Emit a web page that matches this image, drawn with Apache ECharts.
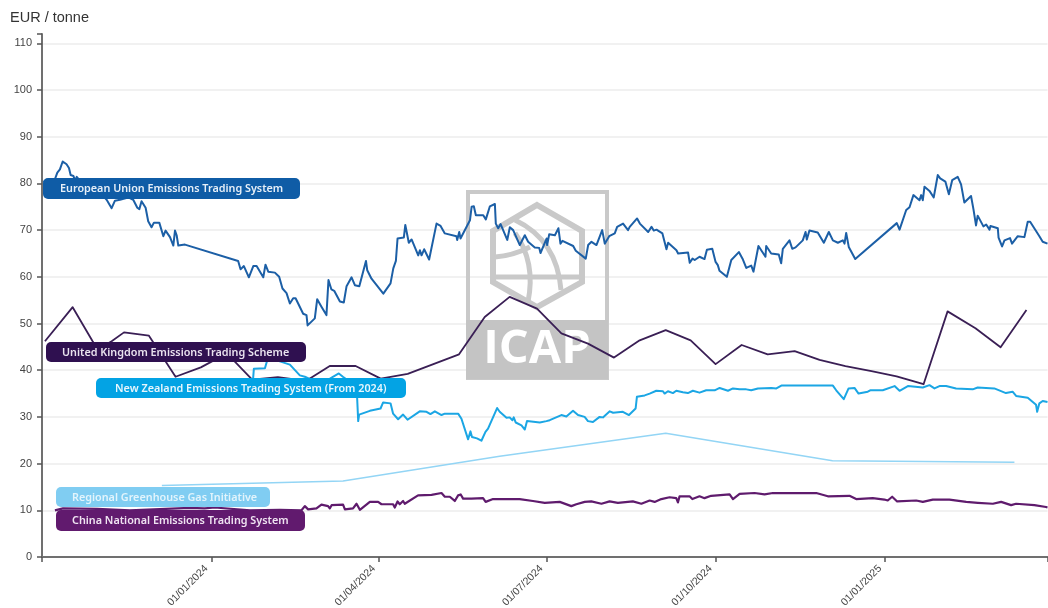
<!DOCTYPE html>
<html>
<head>
<meta charset="utf-8">
<style>html,body{margin:0;padding:0;background:#fff}#chart{width:1048px;height:608px;filter:blur(0.4px)}</style>
<script src="https://cdn.jsdelivr.net/npm/echarts@6/dist/echarts.min.js"></script>
</head>
<body>
<div id="chart"></div>
<script>
// Day numbers count from 1 October 2023 at a slightly coarser day width
const startDate = [2023, 9, 1];
const dayWidth = 1.0035;
const lastDay = 544.4;
const tickLabels = ['01/01/2024', '01/04/2024', '01/07/2024', '01/10/2024', '01/01/2025'];
const yLabels = [0, 10, 20, 30, 40, 50, 60, 70, 80, 90, 100, 110];
const unitLabel = 'EUR / tonne';

const euDays = [1,4.3,8.3,9.7,11.2,13.3,14.6,15.5,17,17.9,18.8,24,30,35,37.7,39.5,42.2,46.7,49.4,51.6,52.7,53.9,56.1,57.5,59.3,60.6,63.5,65.7,66.9,69.3,71.1,72,72.9,73.8,77.4,106.2,107.5,109.3,112,114.4,116.2,119.8,121,122.5,126.1,128.4,130.2,132.4,134.2,136,137.3,141.4,143.2,143.8,147.7,149,150,151.3,154,155.1,156.7,158.2,161.3,163.4,164.9,167.6,169.4,171.8,175.4,176.1,178.4,184.8,188.7,190.2,191.6,192.5,195.9,196.7,198.6,200.1,203.7,204.6,205.5,206.9,209.6,213.6,215.8,218.1,224.4,224.8,225.9,226.6,231.7,232.6,233.8,234.9,238.9,240.3,242.5,245.2,245.7,247,248.3,251.9,253.3,255.1,258.7,261.4,263.2,266.8,269.2,269.9,273.2,273.5,274.6,277.7,279.6,280.7,281.8,287.6,289,294.4,295.7,297.5,300.2,303.3,304.7,307.1,310.1,311.4,314.6,317.3,318.2,322.2,323.7,328.2,330,331.2,332.7,335.9,338.1,339,343.5,344.4,349.8,350.7,352.2,353.4,356,358.7,360,362.9,364.7,365.9,366.8,370.8,373.2,377.3,379.5,381.3,384,385.2,387.9,391.7,392.1,394.8,398.9,400.2,401.1,404.7,406.2,408,411.9,413.4,414.1,415.5,420,423.3,426,428.2,430.9,433.6,434.5,435.4,436.8,440.3,462.8,464.3,467.9,469.7,471.8,475.1,476,476.9,477.8,480.5,482.8,485,486.3,489.1,491,492.8,495.8,497.6,499.4,503,504.3,505.7,506.6,509.7,511.2,513,513.5,517.5,517.9,519.8,521.1,524.1,525.2,528.3,531.9,533.7,535,538.2,540,541.8,544.4];
const euValues = [80.6,78,82.3,83,84.7,84.1,83.3,81.8,81.6,80.6,81.4,79,78.8,76.5,74.7,76.3,76.5,77,76.5,74.8,74.5,76.2,74.8,71.9,70.6,71.6,71.6,68.7,69.9,68.5,66.7,69.9,68.9,66.7,66.9,63.4,61.6,62.3,59.9,62.3,62.3,59.9,62.6,61.1,60.9,60,57.5,56.5,54.3,55.4,55.4,52.1,51.8,49.6,51.1,55.2,55.2,53.6,51.8,59.3,57.3,57,54.7,54.5,58,59.9,58.2,58,63.4,61.4,59.6,56.4,58.6,61.8,63.4,68.2,68.4,71.1,67.3,68,64.6,65.7,64.6,65.9,63.7,71.4,70.9,69.3,68.7,67.9,69.6,68.2,72.1,75,75.1,73.2,73.2,72.3,75.1,75.6,71.4,70.4,71.3,67.9,70.6,70,66.8,68.9,67.5,66.3,66.2,65.1,68.2,66.8,69.1,68.9,70.4,67.1,67.7,66.6,65.6,63.9,66.8,67.5,66.8,70,67.1,68.7,69.3,70.7,71.4,70,70.7,72.5,71.4,69.6,70.7,69.9,70.1,69.3,65.9,67.3,65.7,65,65.2,63,63.9,63.6,64.3,63.8,65.8,66,63.2,62.5,61.3,60,63.6,65.3,63.7,61.9,62.4,61.1,66.6,64.3,66.6,65,64.8,62.9,66,67.8,66,66.3,67.8,69.6,68,69.9,69.5,67.3,69.6,67.8,67.3,67.8,67.1,69.4,66.4,63.8,71.5,70.1,74.3,74.9,77.5,76.4,77.5,76.4,79.3,78.4,77,81.8,81.1,80.4,77.7,80.7,81.4,79.8,75.9,77.3,74.5,71,73.1,70.8,71.2,70.1,70.9,70.4,68.4,66.5,67.8,68.3,67.1,68.7,68.5,71.8,71.8,69.8,68.7,67.5,67.1];

const ukDays = [1.6,16.6,27.4,30.3,37.7,44.4,57.9,72.3,86,100.1,113.8,127.7,142.9,155.8,169.8,183.4,198,225.8,239.7,253.2,268,281.2,295.6,309.7,323.6,337.7,351.2,364.7,378.8,392.9,407.5,421,435,449.1,462.7,477.3,490.3,505.4,519,533];
const ukValues = [46.2,53.5,46.2,44.5,46.2,48.1,47.4,38.6,40.6,43.6,38,38.5,37.7,40.9,40.9,38.2,39.2,43.4,51.4,55.7,53.2,47.9,45.7,42.7,46.4,48.6,46.4,41.3,45.4,43.4,44.1,42.2,40.9,39.8,38.7,37,52.6,49,44.9,52.9];

const nzDays = [114.3,114.7,120.7,122.3,124.5,128.8,134.2,139.6,142.3,146.1,153.1,157.5,160.7,162.9,166.7,170.4,171.2,171.7,177.5,183.3,184.7,188.7,190.1,192.8,195.5,197.9,204.5,208.2,210.3,212.7,216.3,218.1,225.3,227.1,230.7,232,232.8,235.5,237.9,240.1,241.5,246.4,247.8,251.5,253.2,254.7,255.4,256.5,259.6,261.4,262.6,269.5,273.1,273.4,274.9,281.2,283.9,287.5,290.2,293.8,295.6,298.3,301.9,303.7,307.4,309.2,314.5,317.8,321.4,322.1,326.3,329,332.6,336.2,337.1,338.9,341.6,343.4,347,349.7,352.4,356,359.6,364.2,366.9,371.4,374.1,377.7,381.3,384,387.6,394.9,397.6,400.3,428.2,430,434.1,436.7,439.9,442.1,447.1,448.4,455.2,461.6,464.3,468.8,476.9,480.5,483.2,485.9,489.5,494.9,503.9,506.6,515.6,521.9,525.5,527.4,533.7,538.2,538.8,540,541.8,544.4];
const nzValues = [38.2,40.3,40.4,42.6,43,41.9,41.2,38.9,38.6,37.9,37.5,38.6,39.3,38.6,37.5,36,29.1,30.5,31.3,31.8,33.1,32.9,30.7,29.5,30.5,29.4,31.2,31.1,30.6,31.2,30.4,30.7,30.7,29.6,25.2,26.9,25.7,25.4,24.9,26.8,27.5,31.9,31.1,29.8,29.9,29.3,29.9,28.8,28.2,27.3,29.1,28.8,29.1,28.7,29.3,30.4,30.1,31.3,30.4,30,29.1,28.9,30,29.9,31.2,30.9,31.1,30.4,31.8,34.3,34.6,35,35.6,35.5,35,35.5,35.1,35.6,35.3,35.1,35.6,35.2,35.7,35.7,36.2,35.6,36.1,35.9,35.9,35.7,36.1,36.2,36.1,36.7,36.7,35.7,33.8,36.1,36.2,35,35.4,35.7,35.7,36.6,35.6,36.6,36.3,36.8,36.1,36.6,36.6,36.1,35.9,36.3,36.1,35.1,35.4,34.5,34.1,32.6,31.1,32.9,33.4,33.2];

const rggiDays = [64.9,163,247.8,337.7,428,526.5];
const rggiValues = [15.3,16.3,21.6,26.5,20.6,20.3];

const cnDays = [7,11.4,29.8,47.6,80,88,93.6,112.6,128.8,140.5,142.3,144.1,148.6,151.3,154.9,155.8,156.8,163,164,168.4,170.3,172.1,177.5,182,183.8,190.1,191,192.5,193.7,195.5,196.4,203.6,210.9,216.3,218.1,220.8,223.5,225.3,226.7,228,232.5,238.8,240.2,244.2,258.6,265.8,272.2,280.3,286.6,289.3,293.8,297.4,302.9,307.3,311.8,319.9,324.5,329,331.7,335.3,339.8,343.4,344.3,345.2,350.6,352.1,356,358.7,362.3,372.3,374.1,377.7,385.8,391.2,395.7,419.2,425.5,437.2,440.8,449.8,456.1,457.9,460.3,463,473.3,476.9,482.3,491.3,500.4,506.7,514.8,519.3,524.7,527.4,537.3,543.6,544.4];
const cnValues = [10,10.4,10.3,10,10.5,10.4,10.6,10,10.1,10,10.9,10.2,10.4,11.2,10.9,10.4,11.1,11.2,10.2,10.4,11.4,10.1,11.8,11.8,11.3,11.3,10.6,11.9,11.3,12,11.4,13.2,13.3,13.7,12.9,12.9,12,13.2,13.4,12.5,12.5,12.6,11.8,12.4,12.4,12,11.6,11.8,10.9,11.3,11.8,11.9,11.4,11.9,11.6,11.9,11.4,12.1,11.8,12.4,12.8,12.6,11.7,13,13,12.4,13,12.6,13.1,13.4,12.4,13.5,13.7,13.4,13.7,13.7,13,13.1,12.4,12.6,12.3,12.1,12.9,11.9,12.1,11.8,12.3,12.3,11.8,11.6,11.4,11.8,11.1,11.4,11.1,10.7,10.6];

const pillNames = ['European Union Emissions Trading System','United Kingdom Emissions Trading Scheme','New Zealand Emissions Trading System (From 2024)','Regional Greenhouse Gas Initiative','China National Emissions Trading System'];

const colours = {eu:'#1c5fa6', uk:'#3a1f55', nz:'#1ba6e4', rggi:'#93d5f5', cn:'#5f1b6d'};
const pills = [
  {x:43,y:178,w:257,h:21,tx:60,fill:'#0f5ca6',text:'#e6eff8'},
  {x:46,y:342,w:260,h:20,tx:62,fill:'#2f1050',text:'#e9e2ee'},
  {x:96,y:378,w:310,h:20,tx:115,fill:'#03a3e4',text:'#e6f6fd'},
  {x:56,y:487,w:214,h:20,tx:72,fill:'#80cdf2',text:'#e2f4fc'},
  {x:56,y:510,w:249,h:21,tx:72,fill:'#611a6e',text:'#efe3f1'}
];

const base = new Date(startDate[0], startDate[1], startDate[2]).getTime();
const toTime = d => base + d * dayWidth * 86400000;
const zip = (days, vals) => days.map((d, i) => [toTime(d), vals[i]]);
const parseLabel = s => { const p = s.split('/'); return new Date(+p[2], +p[1] - 1, +p[0]).getTime(); };
const labelTimes = tickLabels.map(parseLabel);
const pad = n => String(n).padStart(2, '0');
const fmt = v => { const d = new Date(v); return pad(d.getDate()) + '/' + pad(d.getMonth() + 1) + '/' + d.getFullYear(); };
const lineSeries = (name, days, vals, color, width, z) => ({
  name, type:'line', data:zip(days, vals), showSymbol:false, symbol:'none', z,
  lineStyle:{color, width, join:'round'}, itemStyle:{color}, emphasis:{disabled:true}
});

const markGrey = '#c9c9c9';
const watermark = [
  {type:'rect', z:1, shape:{x:468,y:192,width:139,height:186}, style:{fill:'none',stroke:markGrey,lineWidth:4}},
  {type:'rect', z:1, shape:{x:466,y:320,width:142,height:59}, style:{fill:'#c4c4c4'}},
  {type:'polygon', z:1, shape:{points:[[537,205],[582,231],[582,282],[537,307],[493,282],[493,231]]}, style:{fill:'none',stroke:markGrey,lineWidth:6}},
  {type:'bezierCurve', z:1, shape:{x1:515,y1:220,cpx1:557,cpy1:240,x2:561,y2:290}, style:{fill:'none',stroke:markGrey,lineWidth:5}},
  {type:'bezierCurve', z:1, shape:{x1:515,y1:233,cpx1:536,cpy1:262,x2:528,y2:302}, style:{fill:'none',stroke:markGrey,lineWidth:5}},
  {type:'bezierCurve', z:1, shape:{x1:495,y1:257,cpx1:512,cpy1:256,x2:530,y2:247}, style:{fill:'none',stroke:markGrey,lineWidth:5}},
  {type:'line', z:1, shape:{x1:495,y1:277,x2:580,y2:277}, style:{stroke:markGrey,lineWidth:5}},
  {type:'text', z:2, x:537,y:350, style:{text:'ICAP',fill:'#fff',font:'700 47px "Open Sans"',align:'center',verticalAlign:'middle'}}
];
const pillEls = [];
pills.forEach((p, i) => {
  pillEls.push({type:'rect', z:50, shape:{x:p.x,y:p.y,width:p.w,height:p.h,r:5}, style:{fill:p.fill}});
  pillEls.push({type:'text', z:51, x:p.tx, y:p.y + p.h / 2 + 0.5, style:{text:pillNames[i],fill:p.text,font:'600 10.8px "Noto Sans"',verticalAlign:'middle'}});
});

const chart = echarts.init(document.getElementById('chart'), null, {renderer:'canvas'});
chart.setOption({
  animation:false,
  grid:{left:42,right:0.5,top:34,bottom:51,containLabel:false,outerBoundsMode:'none'},
  xAxis:{
    type:'value', min:toTime(0), max:toTime(lastDay), scale:true,
    axisLine:{lineStyle:{color:'#707070',width:2}},
    axisTick:{show:true,length:5,lineStyle:{color:'#555',width:1.5},customValues:[toTime(0)].concat(labelTimes,[toTime(lastDay)])},
    axisLabel:{show:true,customValues:labelTimes,rotate:45,color:'#444',fontSize:10.5,fontFamily:'Liberation Sans',margin:5,padding:[0,7,0,0],hideOverlap:false,showMinLabel:true,showMaxLabel:true,formatter:v => fmt(v)},
    splitLine:{show:false}
  },
  yAxis:[{
    type:'value', min:0, max:112, position:'left',
    axisLine:{show:true,lineStyle:{color:'#707070',width:2}},
    axisTick:{show:true,length:5,lineStyle:{color:'#555',width:1.5},customValues:yLabels},
    axisLabel:{show:true,customValues:yLabels,color:'#444',fontSize:11,fontFamily:'Liberation Sans',margin:10},
    splitLine:{show:true,lineStyle:{color:'#ececec',width:1.5}}
  },{
    type:'value', min:0, max:112, position:'left',
    axisLine:{show:false},
    axisTick:{show:true,length:5,lineStyle:{color:'#555',width:1.5},customValues:[112]},
    axisLabel:{show:false},
    splitLine:{show:false}
  }],
  series:[
    lineSeries('European Union Emissions Trading System', euDays, euValues, colours.eu, 2, 5),
    lineSeries('New Zealand Emissions Trading System (From 2024)', nzDays, nzValues, colours.nz, 2, 4),
    lineSeries('Regional Greenhouse Gas Initiative', rggiDays, rggiValues, colours.rggi, 1.5, 3),
    lineSeries('China National Emissions Trading System', cnDays, cnValues, colours.cn, 2.2, 5),
    lineSeries('United Kingdom Emissions Trading Scheme', ukDays, ukValues, colours.uk, 1.8, 6)
  ],
  graphic:{elements:[
    {type:'text', z:51, x:10, y:17.5, style:{text:unitLabel,fill:'#333',font:'14.5px "Liberation Sans"',verticalAlign:'middle'}}
  ].concat(watermark, pillEls)}
});
</script>
</body>
</html>
